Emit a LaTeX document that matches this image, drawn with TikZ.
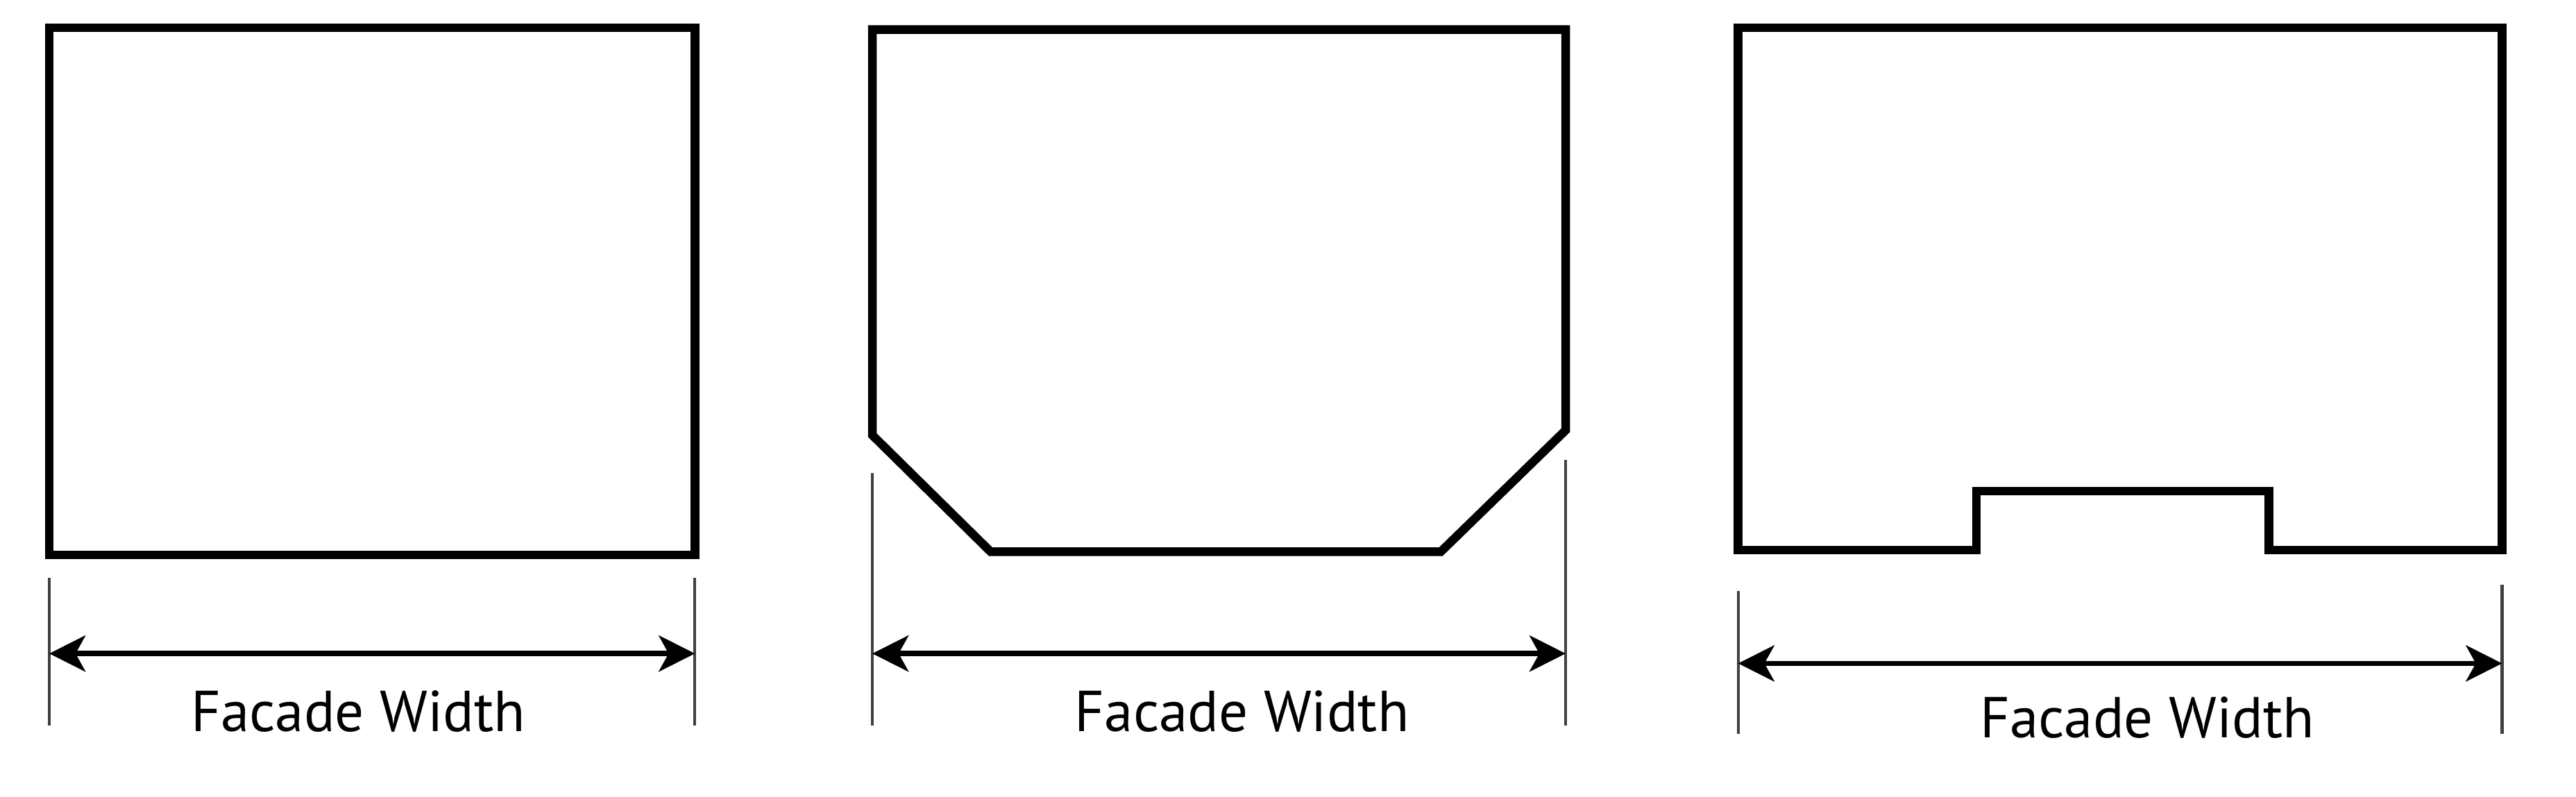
\documentclass[tikz,border=0pt]{standalone}
\usepackage{fontspec}
\setmainfont{PT Sans}
\usetikzlibrary{arrows.meta}
\tikzset{
  facade/.style={line width=1.5pt, line join=miter},
  extline/.style={line width=0.5pt, black!75},
  dimline/.style={line width=0.9pt, {Stealth[length=2.2mm,width=2.2mm,inset=0.6mm]}-{Stealth[length=2.2mm,width=2.2mm,inset=0.6mm]}},
  dimlabel/.style={font=\fontsize{10}{12}\selectfont, inner sep=0pt}
}
\begin{document}
\begin{tikzpicture}[x=0.1mm, y=-0.1mm]
	\useasboundingbox (0,0) rectangle (1568,485);
	% Linke Fassade
	\begin{scope}
		\draw[facade] (30,17) rectangle (423,338);
		\coordinate (ltop1) at (30,352);  \coordinate (lbot1) at (30,442);
		\coordinate (rtop1) at (423,352); \coordinate (rbot1) at (423,442);
		\coordinate (la1) at (30,398);    \coordinate (ra1) at (423,398);
		\draw[extline] (ltop1) -- (lbot1);
		\draw[extline] (rtop1) -- (rbot1);
		\draw[dimline] (la1) -- (ra1);
		\node[dimlabel] (w1) at (218,433) {Facade Width};
	\end{scope}
	% Mittlere Fassade
	\begin{scope}
		\draw[facade] (531,18) -- (953,18) -- (953,262) -- (877,336)
			-- (603,336) -- (531,265) -- cycle;
		\coordinate (ltop2) at (531,288); \coordinate (lbot2) at (531,442);
		\coordinate (rtop2) at (953,280); \coordinate (rbot2) at (953,442);
		\coordinate (la2) at (531,398);   \coordinate (ra2) at (953,398);
		\draw[extline] (ltop2) -- (lbot2);
		\draw[extline] (rtop2) -- (rbot2);
		\draw[dimline] (la2) -- (ra2);
		\node[dimlabel] (w2) at (756,433) {Facade Width};
	\end{scope}
	% Rechte Fassade
	\begin{scope}
		\draw[facade] (1058,17) -- (1523,17) -- (1523,335) -- (1381,335)
			-- (1381,299) -- (1203,299) -- (1203,335) -- (1058,335) -- cycle;
		\coordinate (ltop3) at (1058,360); \coordinate (lbot3) at (1058,447);
		\coordinate (rtop3) at (1523,356); \coordinate (rbot3) at (1523,447);
		\coordinate (la3) at (1058,404);   \coordinate (ra3) at (1523,404);
		\draw[extline] (ltop3) -- (lbot3);
		\draw[extline] (rtop3) -- (rbot3);
		\draw[dimline] (la3) -- (ra3);
		\node[dimlabel] (w3) at (1307,437) {Facade Width};
	\end{scope}
\end{tikzpicture}
\end{document}
